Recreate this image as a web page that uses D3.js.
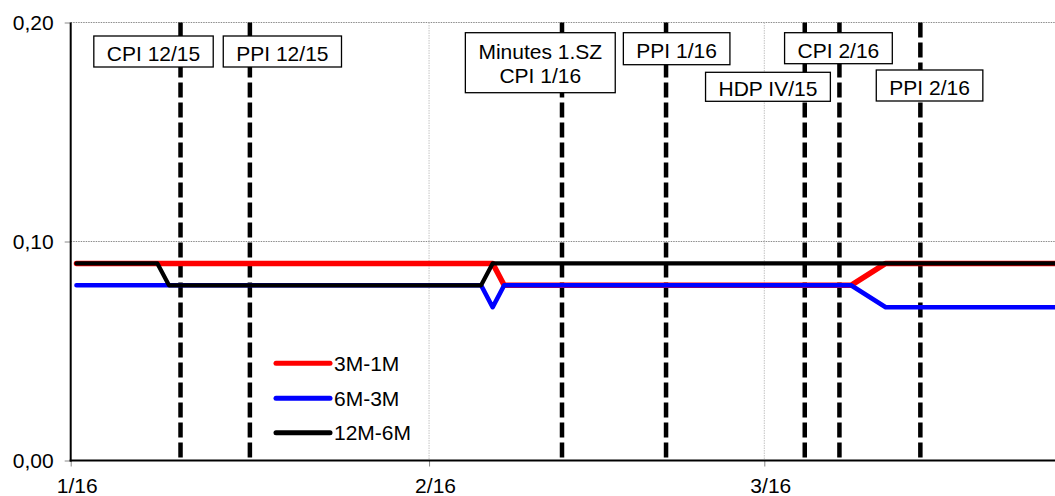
<!DOCTYPE html>
<html><head><meta charset="utf-8">
<script src="https://cdn.jsdelivr.net/npm/d3@7"></script>
<style>html,body{margin:0;padding:0;background:#fff}svg{display:block;font-family:"Liberation Sans",Arial,sans-serif}</style>
</head><body><svg id="c" width="1055" height="496"></svg>
<script>
// ---- data ----
const startDate = "2016-01-01";
const nDays = 86; // 1 Jan 2016 .. 26 Mar 2016, daily
const seriesNames = ["3M-1M", "6M-3M", "12M-6M"];
const seriesColors = ["#ff0000", "#0000ff", "#000000"];
// day index 0 = 1 Jan 2016
const s3M1M = [
 0.09,0.09,0.09,0.09,0.09,0.09,0.09,0.09,0.09,0.09, 0.09,0.09,0.09,0.09,0.09,0.09,0.09,0.09,0.09,0.09,
 0.09,0.09,0.09,0.09,0.09,0.09,0.09,0.09,0.09,0.09, 0.09,0.09,0.09,0.09,0.09,0.09,0.09,0.08,0.08,0.08,
 0.08,0.08,0.08,0.08,0.08,0.08,0.08,0.08,0.08,0.08, 0.08,0.08,0.08,0.08,0.08,0.08,0.08,0.08,0.08,0.08,
 0.08,0.08,0.08,0.08,0.08,0.08,0.08,0.08,null,null, 0.09,0.09,0.09,0.09,0.09,0.09,0.09,0.09,0.09,0.09,
 0.09,0.09,0.09,0.09,0.09,0.09];
const s6M3M = [
 0.08,0.08,0.08,0.08,0.08,0.08,0.08,0.08,0.08,0.08, 0.08,0.08,0.08,0.08,0.08,0.08,0.08,0.08,0.08,0.08,
 0.08,0.08,0.08,0.08,0.08,0.08,0.08,0.08,0.08,0.08, 0.08,0.08,0.08,0.08,0.08,0.08,0.07,0.08,0.08,0.08,
 0.08,0.08,0.08,0.08,0.08,0.08,0.08,0.08,0.08,0.08, 0.08,0.08,0.08,0.08,0.08,0.08,0.08,0.08,0.08,0.08,
 0.08,0.08,0.08,0.08,0.08,0.08,0.08,0.08,null,null, 0.07,0.07,0.07,0.07,0.07,0.07,0.07,0.07,0.07,0.07,
 0.07,0.07,0.07,0.07,0.07,0.07];
const s12M6M = [
 0.09,0.09,0.09,0.09,0.09,0.09,0.09,0.09,0.08,0.08, 0.08,0.08,0.08,0.08,0.08,0.08,0.08,0.08,0.08,0.08,
 0.08,0.08,0.08,0.08,0.08,0.08,0.08,0.08,0.08,0.08, 0.08,0.08,0.08,0.08,0.08,0.08,0.09,0.09,0.09,0.09,
 0.09,0.09,0.09,0.09,0.09,0.09,0.09,0.09,0.09,0.09, 0.09,0.09,0.09,0.09,0.09,0.09,0.09,0.09,0.09,0.09,
 0.09,0.09,0.09,0.09,0.09,0.09,0.09,0.09,0.09,0.09, 0.09,0.09,0.09,0.09,0.09,0.09,0.09,0.09,0.09,0.09,
 0.09,0.09,0.09,0.09,0.09,0.09];
const eventDates = ["2016-01-10","2016-01-16","2016-02-12","2016-02-21","2016-03-04","2016-03-07","2016-03-14"];
const eventLabels = [["CPI 12/15"],["PPI 12/15"],["Minutes 1.SZ","CPI 1/16"],["PPI 1/16"],["HDP IV/15"],["CPI 2/16"],["PPI 2/16"]];
const yTicks = [0, 0.10, 0.20];
const xTickDates = ["2016-01-01","2016-02-01","2016-03-01"];

// ---- layout ----
const W = 1055, H = 496;
const plotLeft = 70.7, plotTop = 22.5, plotBottom = 460.5;
const pxPerDay = 11.56;
const parse = d3.timeParse("%Y-%m-%d");
const d0 = parse(startDate);
const dEnd = d3.timeDay.offset(d0, 91);
const x = d3.scaleTime().domain([d0, dEnd]).range([plotLeft, plotLeft + 91 * pxPerDay]);
const y = d3.scaleLinear().domain([0, 0.20]).range([plotBottom, plotTop]);
const mid = d => d3.timeHour.offset(d, 12); // points centred in their day
const fmtY = d3.format(".2f");
const fmtX = d3.timeFormat("%-m/%y");
const FS = 21;

// label placement: offset of box centre from event line, box top, box height
const labelLayout = [
 {dx:-27, top:36, h:31}, {dx:32.5, top:36, h:31}, {dx:-21.7, top:32.7, h:60},
 {dx:10.6, top:32.7, h:32}, {dx:-36.8, top:72.3, h:29}, {dx:-1, top:32.7, h:31}, {dx:9.2, top:70, h:31}
];

const svg = d3.select("#c");

// gridlines
svg.append("g").selectAll("line").data(yTicks.filter(v => v > 0)).join("line")
  .attr("x1", plotLeft).attr("x2", W).attr("y1", d => y(d)).attr("y2", d => y(d))
  .attr("stroke", "#8c8c8c").attr("stroke-width", 1).attr("stroke-dasharray", "1.5,1");
svg.append("g").selectAll("line").data(xTickDates.slice(1).map(parse)).join("line")
  .attr("x1", d => x(d)).attr("x2", d => x(d)).attr("y1", plotTop).attr("y2", plotBottom)
  .attr("stroke", "#c4c4c4").attr("stroke-width", 1).attr("stroke-dasharray", "1.5,1");

// axes
const yAxis = d3.axisLeft(y).tickValues(yTicks).tickFormat(d => fmtY(d).replace(".", ",")).tickSize(6).tickPadding(11);
const gy = svg.append("g").attr("transform", `translate(${plotLeft},0)`).call(yAxis);
gy.select(".domain").remove();
gy.selectAll(".tick line").attr("stroke", "#888");
gy.selectAll("text").attr("font-size", FS).attr("fill", "#000").attr("font-family", "Liberation Sans, Arial, sans-serif");

const xAxis = d3.axisBottom(x).tickValues(xTickDates.map(parse)).tickFormat(fmtX).tickSize(6).tickPadding(12);
const gx = svg.append("g").attr("transform", `translate(0,${plotBottom})`).call(xAxis);
gx.select(".domain").remove();
gx.selectAll(".tick line").attr("stroke", "#888");
gx.selectAll("text").attr("font-size", FS).attr("fill", "#000").attr("dx", 6)
  .attr("font-family", "Liberation Sans, Arial, sans-serif");

// axis lines
svg.append("line").attr("x1", plotLeft).attr("x2", plotLeft).attr("y1", plotTop).attr("y2", plotBottom + 1)
  .attr("stroke", "#000").attr("stroke-width", 2);
svg.append("line").attr("x1", plotLeft - 1).attr("x2", W).attr("y1", plotBottom).attr("y2", plotBottom)
  .attr("stroke", "#000").attr("stroke-width", 2);

// event dashed lines
const events = eventDates.map((d, i) => ({date: parse(d), lines: eventLabels[i], lay: labelLayout[i]}));
svg.append("g").selectAll("line").data(events).join("line")
  .attr("x1", d => x(mid(d.date))).attr("x2", d => x(mid(d.date)))
  .attr("y1", plotTop).attr("y2", plotBottom - 1.5)
  .attr("stroke", "#000").attr("stroke-width", 4.5).attr("stroke-dasharray", "15,5");

// series lines
const dates = d3.range(nDays).map(i => mid(d3.timeDay.offset(d0, i)));
const allSeries = [s3M1M, s6M3M, s12M6M];
const widths = [5.5, 4.6, 4.2];
const line = d3.line().x(d => x(d[0])).y(d => y(d[1]));
allSeries.forEach((vals, k) => {
  const pts = dates.map((d, i) => [d, vals[i]]).filter(p => p[1] != null);
  svg.append("path").datum(pts).attr("d", line)
    .attr("fill", "none").attr("stroke", seriesColors[k]).attr("stroke-width", widths[k])
    .attr("stroke-linejoin", "round").attr("stroke-linecap", "round");
});

// event label boxes
const lg = svg.append("g").attr("font-size", FS).attr("font-family", "Liberation Sans, Arial, sans-serif");
events.forEach(ev => {
  const cx = x(mid(ev.date)) + ev.lay.dx;
  const g = lg.append("g");
  const t = g.append("text").attr("text-anchor", "middle").attr("fill", "#000");
  const n = ev.lines.length;
  const lh = 24;
  const cy = ev.lay.top + ev.lay.h / 2 + (n === 1 ? 2 : 1);
  ev.lines.forEach((s, i) => {
    t.append("tspan").attr("x", cx).attr("y", cy + (i - (n - 1) / 2) * lh + FS * 0.36).text(s);
  });
  const bw = t.node().getBBox().width + 26;
  g.insert("rect", "text").attr("x", cx - bw / 2).attr("y", ev.lay.top).attr("width", bw).attr("height", ev.lay.h)
    .attr("fill", "#fff").attr("stroke", "#000").attr("stroke-width", 1.3);
});

// legend
const legY = [363.3, 398.3, 432.7];
const leg = svg.append("g").attr("font-size", FS).attr("font-family", "Liberation Sans, Arial, sans-serif");
seriesNames.forEach((nm, k) => {
  leg.append("line").attr("x1", 276).attr("x2", 330).attr("y1", legY[k]).attr("y2", legY[k])
    .attr("stroke", seriesColors[k]).attr("stroke-width", 5).attr("stroke-linecap", "round");
  leg.append("text").attr("x", 334).attr("y", legY[k] + FS * 0.36).text(nm).attr("fill", "#000");
});
</script></body></html>
